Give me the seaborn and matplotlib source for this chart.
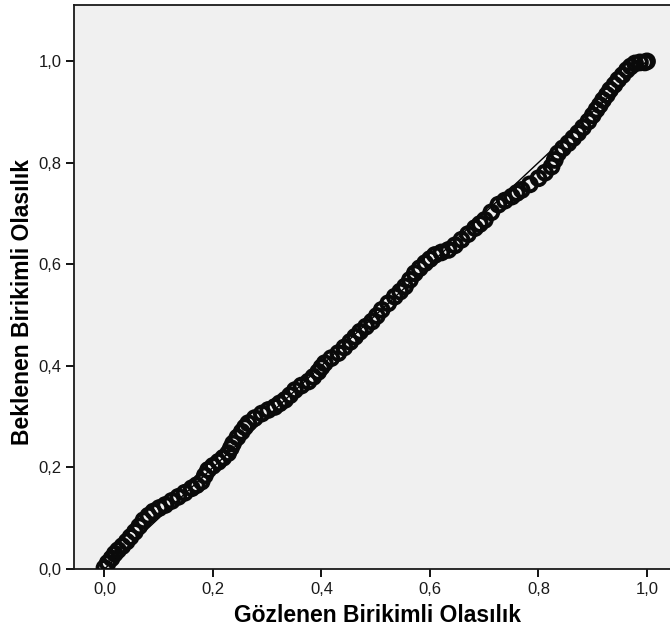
import matplotlib
matplotlib.use("Agg")
import matplotlib.pyplot as plt
from matplotlib.ticker import FuncFormatter
import seaborn as sns
import pandas as pd

# Observed cumulative probability (x) and expected cumulative probability (y)
observed = [0.000, 0.006, 0.013, 0.019, 0.025, 0.033, 0.041, 0.048, 0.056, 0.064,
            0.072, 0.081, 0.090, 0.101, 0.112, 0.124, 0.136, 0.148, 0.161, 0.170,
            0.179, 0.185, 0.191, 0.200, 0.210, 0.219, 0.228, 0.233, 0.237, 0.245,
            0.253, 0.259, 0.265, 0.277, 0.290, 0.302, 0.314, 0.323, 0.333, 0.342,
            0.351, 0.363, 0.376, 0.385, 0.394, 0.400, 0.406, 0.418, 0.431, 0.442,
            0.453, 0.462, 0.471, 0.482, 0.493, 0.502, 0.511, 0.523, 0.535, 0.545,
            0.554, 0.563, 0.572, 0.581, 0.591, 0.600, 0.609, 0.621, 0.634, 0.646,
            0.658, 0.670, 0.683, 0.692, 0.701, 0.713, 0.726, 0.738, 0.751, 0.760,
            0.769, 0.784, 0.800, 0.812, 0.824, 0.830, 0.836, 0.845, 0.855, 0.864,
            0.873, 0.882, 0.892, 0.900, 0.907, 0.913, 0.919, 0.926, 0.932, 0.940,
            0.947, 0.955, 0.963, 0.970, 0.978, 0.987, 0.996, 1.000]
expected = [0.002, 0.012, 0.021, 0.030, 0.037, 0.045, 0.054, 0.063, 0.073, 0.084,
            0.096, 0.105, 0.113, 0.120, 0.126, 0.134, 0.142, 0.150, 0.159, 0.165,
            0.172, 0.184, 0.195, 0.203, 0.211, 0.219, 0.228, 0.238, 0.247, 0.259,
            0.270, 0.279, 0.287, 0.297, 0.306, 0.313, 0.319, 0.326, 0.333, 0.342,
            0.352, 0.361, 0.369, 0.378, 0.388, 0.397, 0.405, 0.415, 0.425, 0.436,
            0.447, 0.457, 0.467, 0.477, 0.487, 0.498, 0.510, 0.523, 0.536, 0.546,
            0.556, 0.569, 0.582, 0.592, 0.602, 0.610, 0.618, 0.623, 0.628, 0.637,
            0.648, 0.659, 0.671, 0.679, 0.687, 0.702, 0.717, 0.725, 0.733, 0.740,
            0.746, 0.757, 0.769, 0.780, 0.792, 0.805, 0.818, 0.828, 0.838, 0.848,
            0.858, 0.869, 0.881, 0.893, 0.904, 0.913, 0.923, 0.933, 0.943, 0.953,
            0.963, 0.972, 0.982, 0.989, 0.995, 0.997, 0.997, 0.999]
ref_line = [0.0, 1.0]
ticks = [0.0, 0.2, 0.4, 0.6, 0.8, 1.0]
xlabel = "Gözlenen Birikimli Olasılık"
ylabel = "Beklenen Birikimli Olasılık"

sns.set_style("white")
plt.rcParams['font.family'] = ['Liberation Sans', 'DejaVu Sans']

W, H = 670, 634
fig = plt.figure(figsize=(W / 100, H / 100), dpi=100)
left, right, top, bottom = 74, 670, 5, 569
ax = fig.add_axes([left / W, (H - bottom) / H, (right - left) / W, (bottom - top) / H])
ax.set_facecolor("#f0f0f0")

df = pd.DataFrame({"obs": observed, "exp": expected})
sns.lineplot(x=ref_line, y=ref_line, ax=ax, color="black", linewidth=1.0, zorder=2)
sns.scatterplot(data=df, x="obs", y="exp", ax=ax, marker="o", s=100,
                facecolor="none", edgecolor="#0a0a0a", linewidth=2.8, zorder=3)

ax.set_xlim(-0.0562, 1.0424)
ax.set_ylim(0.0, 1.110)
ax.set_xticks(ticks)
ax.set_yticks(ticks)
fmt = FuncFormatter(lambda v, p: f"{v:.1f}".replace(".", ","))
ax.xaxis.set_major_formatter(fmt)
ax.yaxis.set_major_formatter(fmt)
ax.tick_params(axis="both", direction="out", length=6, width=1.3, color="black",
               labelsize=12, labelcolor="#1a1a1a", pad=3, bottom=True, left=True)

for s in ["left", "top", "bottom"]:
    ax.spines[s].set_color("#1a1a1a")
    ax.spines[s].set_linewidth(1.3)
ax.spines["right"].set_visible(False)

ax.set_xlabel(xlabel, fontsize=16.5, fontweight="bold", color="black")
ax.set_ylabel(ylabel, fontsize=16.5, fontweight="bold", color="black")
ax.xaxis.set_label_coords((377 - left) / (right - left), (bottom - 604) / (bottom - top))
ax.yaxis.set_label_coords((34 - left) / (right - left), (bottom - 302) / (bottom - top))

fig.savefig("out.png", dpi=100, facecolor="white")
